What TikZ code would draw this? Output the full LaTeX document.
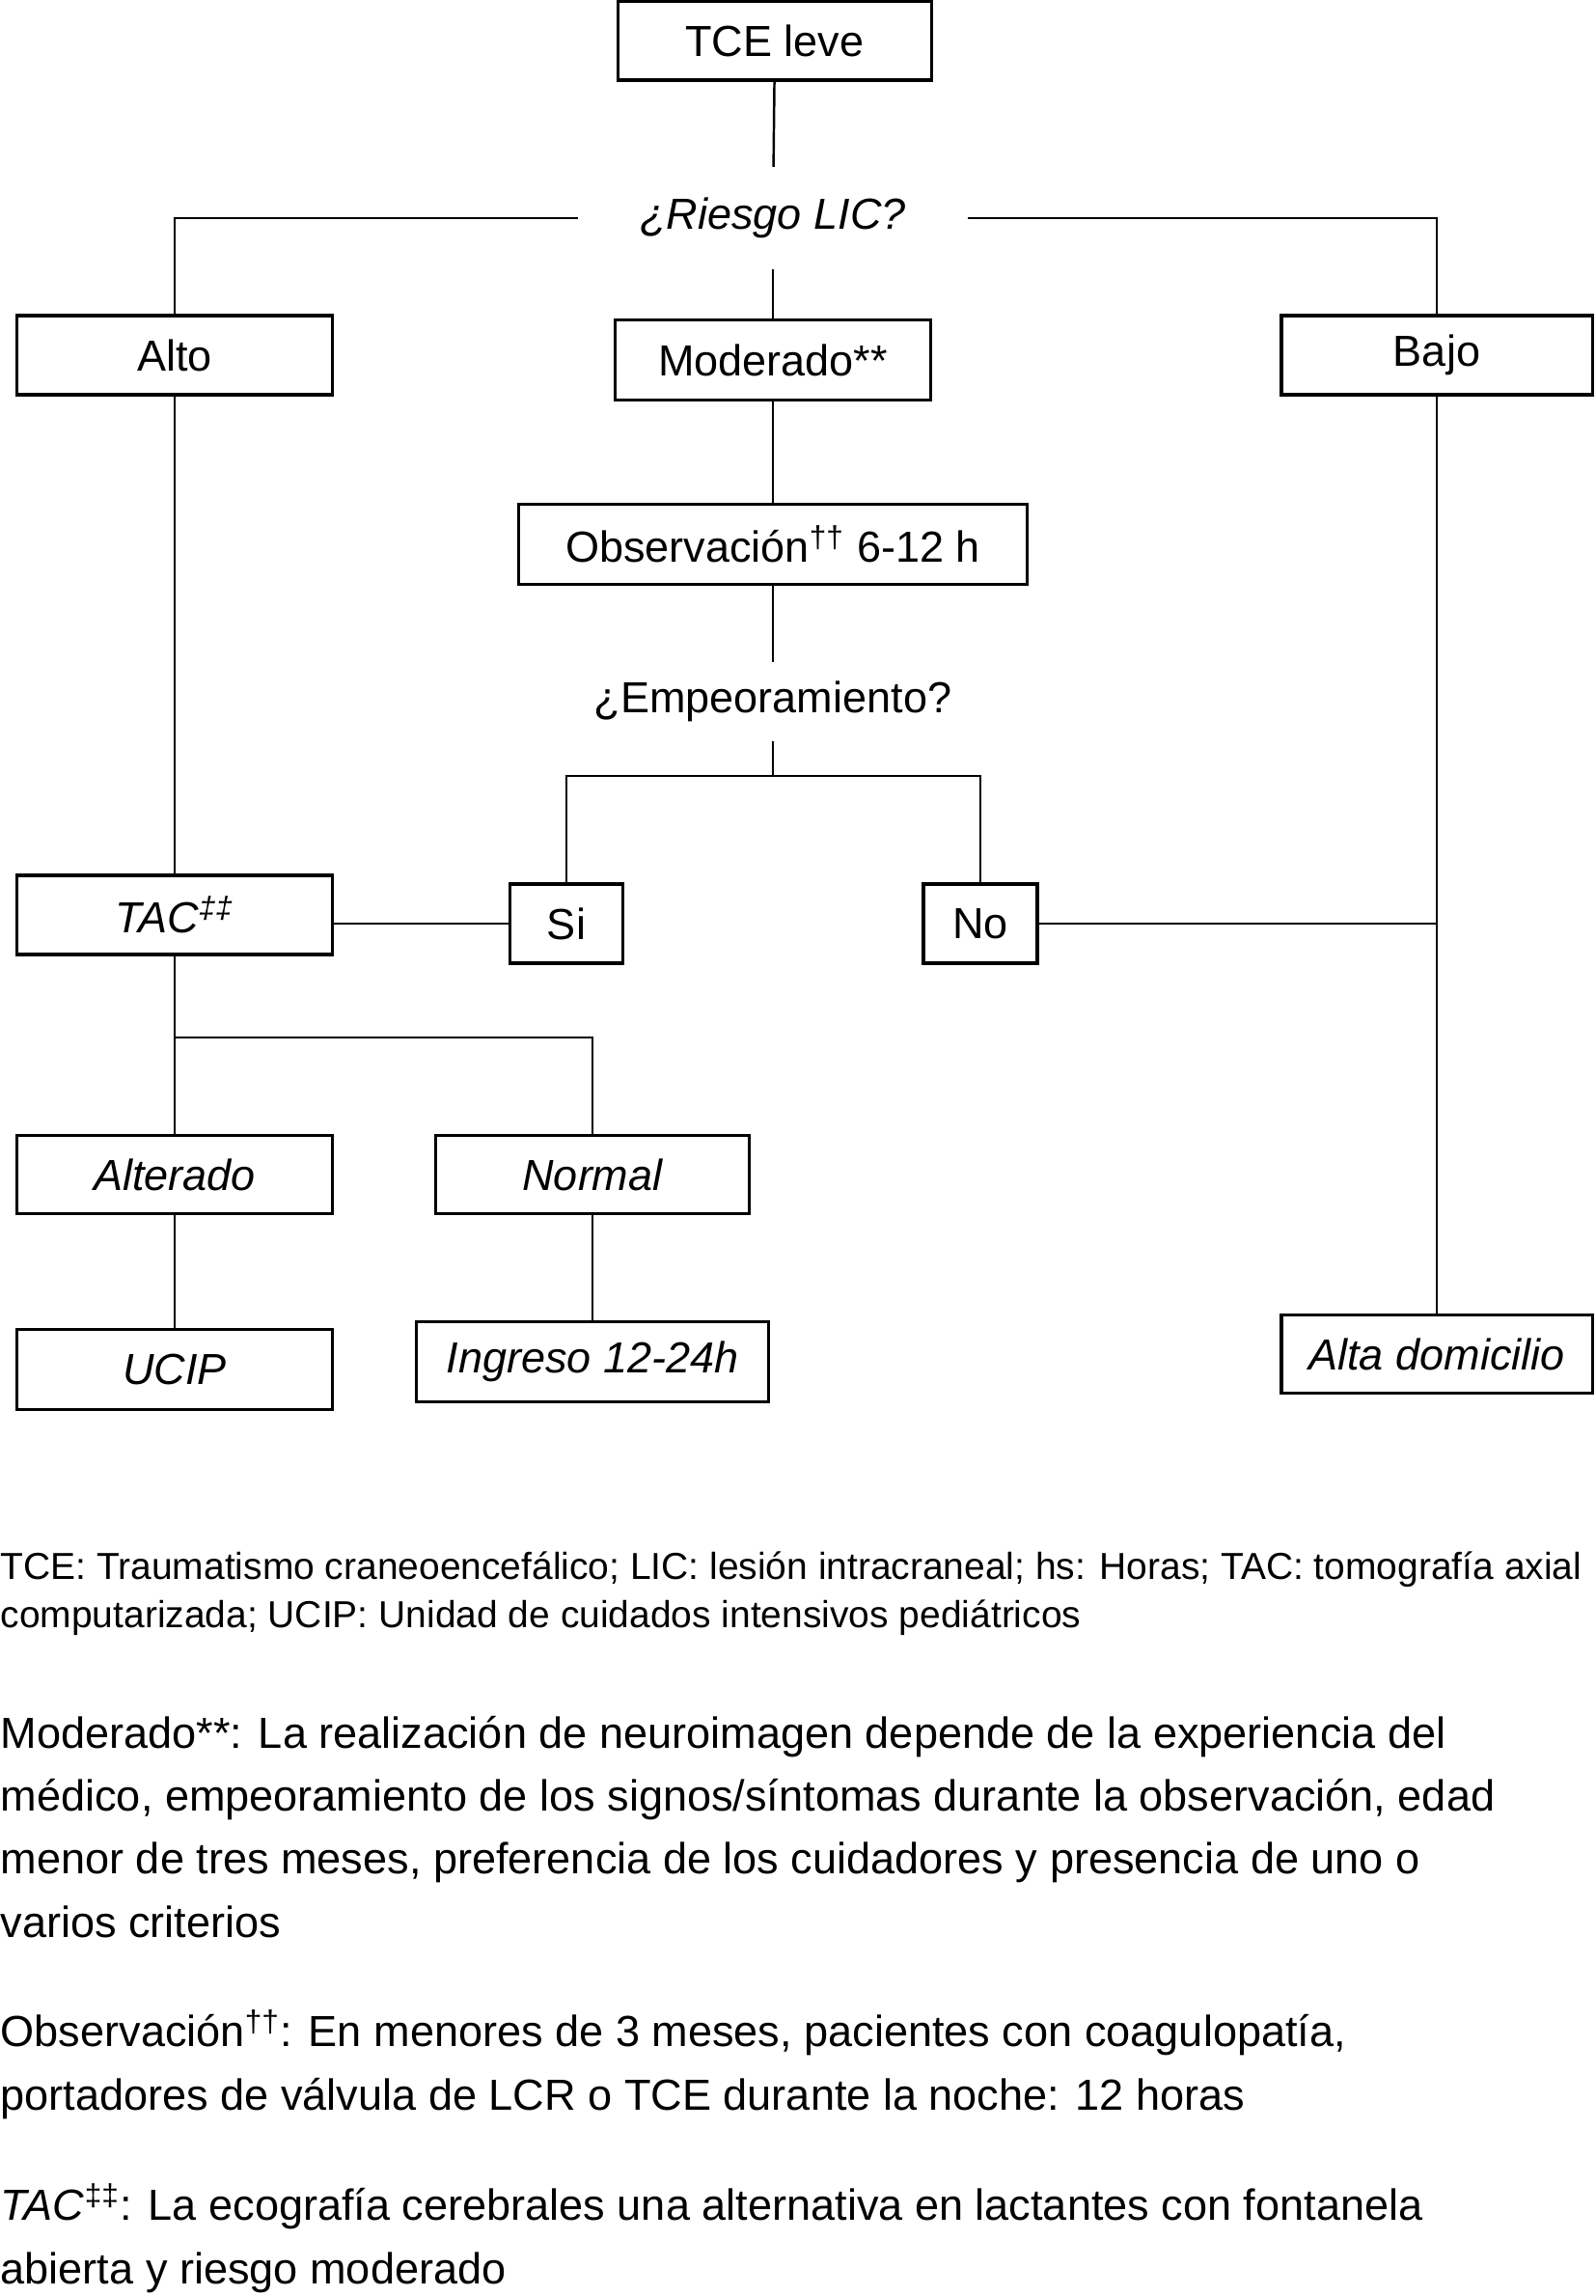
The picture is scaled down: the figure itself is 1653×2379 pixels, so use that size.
\documentclass[tikz,border=0pt]{standalone}
\usepackage{fontspec}
\setmainfont{Liberation Sans}
\usetikzlibrary{positioning,calc}

\begin{document}
\begin{tikzpicture}[x=0.01cm,y=-0.01cm,
  caja/.style={draw,line width=0.9pt,minimum height=0.82cm,inner sep=0pt,font=\fontsize{12.8}{15}\selectfont},
  pregunta/.style={inner sep=0pt,font=\fontsize{12.8}{15}\selectfont},
  linea/.style={line width=0.7pt},
  nota/.style={anchor=base west,align=left,inner sep=0pt,font=\fontsize{12.82}{18.5}\selectfont}]
\useasboundingbox (0,0) rectangle (1653,2379);
% cajas del arbol
\node[caja,minimum width=3.24cm] (tce) at (803,42) {TCE leve};
\node[pregunta,minimum width=4.02cm,minimum height=1.05cm] (riesgo) at (801,226) {\itshape ¿Riesgo LIC?};
\node[caja,minimum width=3.27cm] (alto) at (181,368) {Alto};
\node[caja,minimum width=3.26cm,minimum height=0.83cm] (moderado) at (801,373) {Moderado**};
\node[caja,minimum width=3.22cm] (bajo) at (1489,368) {Bajo};
\node[caja,minimum width=5.27cm,minimum height=0.83cm] (obs) at (801,564) {Observación\textsuperscript{††} 6-12 h};
\node[pregunta,minimum width=3cm,minimum height=0.8cm] (emp) at (801,727) {¿Empeoramiento?};
\node[caja,minimum width=3.27cm] (tac) at (181,948) {\itshape TAC\textsuperscript{‡‡}};
\node[caja,minimum width=1.17cm] (si) at (587,957) {Si};
\node[caja,minimum width=1.18cm] (no) at (1016,957) {No};
\node[caja,minimum width=3.27cm,minimum height=0.81cm] (alterado) at (181,1217) {\itshape Alterado};
\node[caja,minimum width=3.24cm,minimum height=0.81cm] (normal) at (614,1217) {\itshape Normal};
\node[caja,minimum width=3.27cm,minimum height=0.83cm] (ucip) at (181,1419) {\itshape UCIP};
\node[caja,minimum width=3.65cm,minimum height=0.83cm] (ingreso) at (614,1411) {\itshape Ingreso 12-24h};
\node[caja,minimum width=3.22cm,minimum height=0.81cm] (alta) at (1489,1403) {\itshape Alta domicilio};
\coordinate (cruce) at (801,804);
\coordinate (bifurca) at (181,1075);
% conectores
\draw[linea] (tce) -- (riesgo);
\draw[linea] (riesgo) -- (moderado);
\draw[linea] (riesgo.west) -| (alto);
\draw[linea] (riesgo.east) -| (bajo);
\draw[linea] (moderado) -- (obs);
\draw[linea] (obs) -- (emp);
\draw[linea] (emp) -- (cruce);
\draw[linea] (si) |- (cruce) -| (no);
\draw[linea] (alto) -- (tac);
\draw[linea] (si.west -| tac.east) -- (si.west);
\draw[linea] (no.east) -- (no.east -| bajo);
\draw[linea] (bajo) -- (alta);
\draw[linea] (tac) -- (alterado);
\draw[linea] (bifurca) -| (normal);
\draw[linea] (alterado) -- (ucip);
\draw[linea] (normal) -- (ingreso);
% notas (base = ultima linea)
\node[nota,font=\fontsize{11.08}{14.2}\selectfont] (abrev) at (0,1686) {TCE: Traumatismo craneoencefálico; LIC: lesión intracraneal; hs: Horas; TAC: tomografía axial\\computarizada; UCIP: Unidad de cuidados intensivos pediátricos};
\node[nota] (notamod) at (0,2007) {Moderado**: La realización de neuroimagen depende de la experiencia del\\médico, empeoramiento de los signos/síntomas durante la observación, edad\\menor de tres meses, preferencia de los cuidadores y presencia de uno o\\varios criterios};
\node[nota] (notaobs) at (0,2186) {Observación\textsuperscript{††}: En menores de 3 meses, pacientes con coagulopatía,\\portadores de válvula de LCR o TCE durante la noche: 12 horas};
\node[nota] (notatac) at (0,2366) {\textit{TAC}\textsuperscript{‡‡}: La ecografía cerebrales una alternativa en lactantes con fontanela\\abierta y riesgo moderado};
\end{tikzpicture}
\end{document}
